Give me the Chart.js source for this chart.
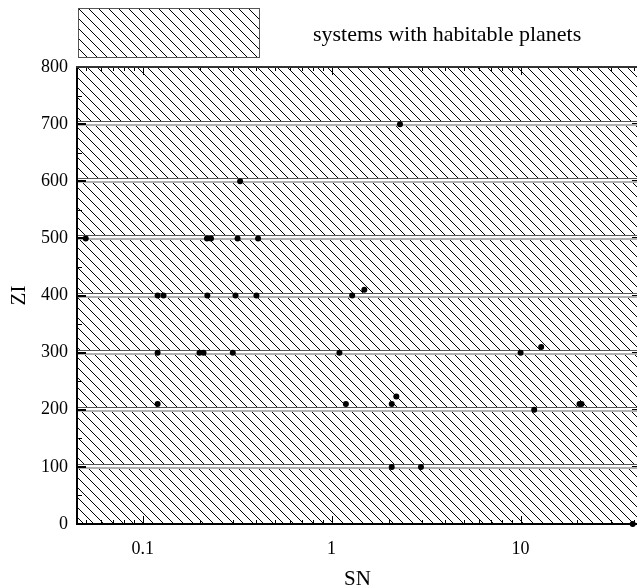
<!DOCTYPE html>
<html>
<head>
<meta charset="utf-8">
<script src="https://cdn.jsdelivr.net/npm/chart.js@4/dist/chart.umd.min.js"></script>
<style>
  html, body { margin: 0; padding: 0; background: #fff; overflow: hidden; }
  #wrap { width: 640px; height: 587px; }
</style>
</head>
<body>
<div id="wrap"><canvas id="chart"></canvas></div>
<script>
// values
const snValues = [0.05, 2.30, 0.328, 0.219, 0.230, 0.318, 0.408,
  0.120, 0.129, 0.220, 0.310, 0.400, 1.285, 1.49,
  0.120, 0.200, 0.210, 0.300, 1.10, 10.0, 12.85,
  0.120, 1.19, 2.08, 2.20, 11.8, 20.5, 21.0,
  2.08, 2.97, 39.2];
const ziValues = [500, 700, 600, 500, 500, 500, 500,
  400, 400, 400, 400, 400, 400, 410,
  300, 300, 300, 300, 300, 300, 310,
  210, 210, 210, 223, 200, 210, 210,
  100, 100, 0];

const bandEdges = [0, 100, 200, 300, 400, 500, 600, 700, 800];
const xTickValues = [0.1, 1, 10];
const xMinorValues = [0.05, 0.06, 0.07, 0.08, 0.09, 0.2, 0.3, 0.4, 0.5, 0.6, 0.7, 0.8, 0.9,
  2, 3, 4, 5, 6, 7, 8, 9, 20, 30, 40];
const yMinorValues = [50, 150, 250, 350, 450, 550, 650, 750];
const xMin = 0.0455, xMax = 41.3;
const legendText = 'systems with habitable planets';

const serif = '"Liberation Serif", "Times New Roman", serif';

function makeHatch(ctx) {
  const tile = document.createElement('canvas');
  tile.width = 10; tile.height = 10;
  const tctx = tile.getContext('2d');
  const img = tctx.createImageData(10, 10);
  for (let i = 0; i < 10; i++) {
    img.data[(i * 10 + i) * 4 + 3] = 255;
  }
  tctx.putImageData(img, 0, 0);
  return ctx.createPattern(tile, 'repeat');
}

// hatched bands, frame and inward ticks
const bandsPlugin = {
  id: 'bands',
  beforeDatasetsDraw(chart) {
    const {ctx, chartArea: a, scales: {x, y}} = chart;
    const hatch = makeHatch(ctx);
    ctx.save();
    ctx.fillStyle = hatch;
    for (let i = 0; i < bandEdges.length - 1; i++) {
      const top = y.getPixelForValue(bandEdges[i + 1]);
      const bot = y.getPixelForValue(bandEdges[i]);
      ctx.fillRect(a.left, top, a.width, bot - top);
    }
    for (let i = 1; i < bandEdges.length - 1; i++) {
      const p = Math.round(y.getPixelForValue(bandEdges[i]));
      ctx.fillStyle = '#fff';
      ctx.fillRect(a.left, p - 3, a.width, 5);
      ctx.fillStyle = '#555';
      ctx.fillRect(a.left, p - 3, a.width, 1);
      ctx.fillStyle = '#b0b0b0';
      ctx.fillRect(a.left, p, a.width, 2);
    }

    ctx.fillStyle = '#000';
    // x ticks, bottom and top, pointing in
    xTickValues.forEach(v => {
      const px = Math.round(x.getPixelForValue(v));
      ctx.fillRect(px, a.bottom - 8, 1, 8);
      ctx.fillRect(px, a.top, 1, 8);
    });
    xMinorValues.forEach(v => {
      const px = Math.round(x.getPixelForValue(v));
      ctx.fillRect(px, a.bottom - 4, 1, 4);
      ctx.fillRect(px, a.top, 1, 4);
    });
    // y ticks, left and right
    bandEdges.forEach(v => {
      const py = Math.round(y.getPixelForValue(v));
      ctx.fillRect(a.left, py - 1, 8, 2);
      ctx.fillRect(a.right - 5, py - 1, 5, 1);
    });
    yMinorValues.forEach(v => {
      const py = Math.round(y.getPixelForValue(v));
      ctx.fillRect(a.left, py, 4, 1);
    });

    // frame
    ctx.fillStyle = '#000';
    ctx.fillRect(a.left - 2, a.top - 1, 2, a.height + 2);
    ctx.fillRect(a.left - 2, a.bottom - 1, a.width + 2, 2);
    ctx.fillStyle = '#333';
    ctx.fillRect(a.left - 2, a.top - 1, a.width + 2, 2);
    ctx.restore();
  },
  afterDraw(chart) {
    const {ctx} = chart;
    ctx.save();
    ctx.fillStyle = makeHatch(ctx);
    ctx.fillRect(78, 8, 182, 50);
    ctx.strokeStyle = '#555';
    ctx.lineWidth = 1;
    ctx.strokeRect(78.5, 8.5, 181, 49);
    ctx.fillStyle = '#000';
    ctx.font = '22px ' + serif;
    ctx.textBaseline = 'middle';
    ctx.textAlign = 'left';
    ctx.fillText(legendText, 313, 35);
    ctx.restore();
  }
};

const points = snValues.map((v, i) => ({x: v, y: ziValues[i]}));

new Chart(document.getElementById('chart'), {
  type: 'scatter',
  data: {
    datasets: [{
      label: legendText,
      data: points,
      pointRadius: 3,
      pointHoverRadius: 3,
      backgroundColor: '#000',
      borderWidth: 0,
      clip: false
    }]
  },
  options: {
    responsive: true,
    maintainAspectRatio: false,
    animation: false,
    layout: { padding: { top: 67, right: 0, left: 0, bottom: 0 } },
    plugins: {
      legend: { display: false },
      tooltip: { enabled: false }
    },
    scales: {
      x: {
        type: 'logarithmic',
        position: 'bottom',
        min: xMin,
        max: xMax,
        grid: { display: false, drawTicks: false },
        border: { display: false },
        afterBuildTicks: s => { s.ticks = xTickValues.map(v => ({value: v})); },
        afterFit: s => { s.height = 63; },
        ticks: {
          color: '#000',
          font: { family: serif, size: 18 },
          padding: 14,
          autoSkip: false,
          maxRotation: 0,
          callback: v => String(v)
        },
        title: {
          display: true,
          text: 'SN',
          color: '#000',
          font: { family: serif, size: 21, lineHeight: 0.72 },
          padding: { top: 0, bottom: 0 }
        }
      },
      y: {
        min: 0,
        max: 800,
        grid: { display: false, drawTicks: false },
        border: { display: false },
        afterFit: s => { s.width = 78; },
        ticks: {
          stepSize: 100,
          color: '#000',
          font: { family: serif, size: 18 },
          padding: 10
        },
        title: {
          display: true,
          text: 'ZI',
          color: '#000',
          font: { family: serif, size: 21 },
          padding: { top: 7, bottom: 0 }
        }
      }
    }
  },
  plugins: [bandsPlugin]
});
</script>
</body>
</html>
